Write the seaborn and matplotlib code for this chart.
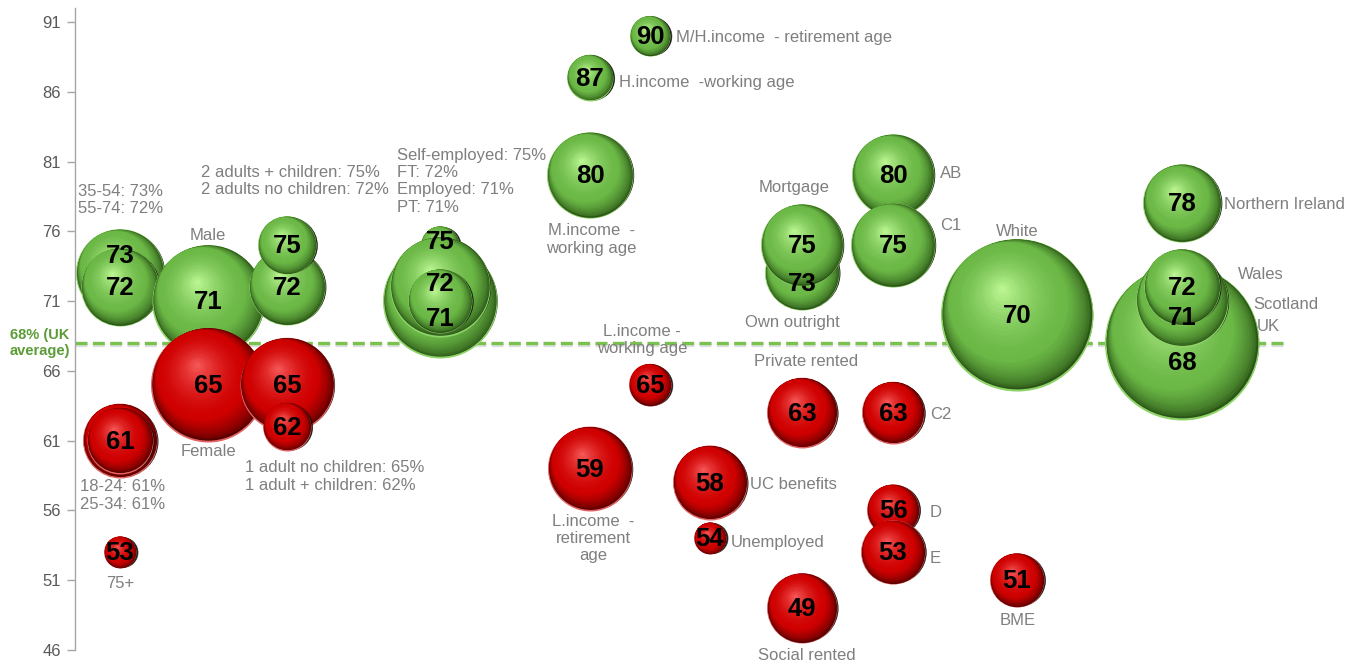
import numpy as np
import pandas as pd
import matplotlib
matplotlib.use("Agg")
import matplotlib.pyplot as plt
import matplotlib.transforms as mtrans
from matplotlib.colors import to_rgb
import seaborn as sns

# ---- data (listed in drawing order: later bubbles sit on top) ----
names = [
    "35-54", "55-74", "18-24", "25-34", "75+",
    "Male", "Female",
    "2 adults no children", "2 adults + children", "1 adult no children", "1 adult + children",
    "Self-employed", "Employed", "FT", "PT",
    "M/H.income  - retirement age", "H.income  -working age", "M.income  -\nworking age",
    "L.income -\nworking age", "L.income  -\nretirement\nage",
    "UC benefits", "Unemployed",
    "Own outright", "Mortgage", "Private rented", "Social rented",
    "AB", "C1", "C2", "D", "E",
    "White", "BME",
    "UK", "Scotland", "Wales", "Northern Ireland",
]
values = [
    73, 72, 61, 61, 53,
    71, 65,
    72, 75, 65, 62,
    75, 71, 72, 71,
    90, 87, 80,
    65, 59,
    58, 54,
    73, 75, 63, 49,
    80, 75, 63, 56, 53,
    70, 51,
    68, 71, 72, 78,
]
# horizontal slot of each group
x_slot = [
    0.45, 0.45, 0.45, 0.45, 0.45,
    1.33, 1.33,
    2.12, 2.12, 2.12, 2.12,
    3.65, 3.65, 3.65, 3.65,
    5.75, 5.15, 5.15,
    5.75, 5.15,
    6.35, 6.35,
    7.27, 7.27, 7.27, 7.27,
    8.18, 8.18, 8.18, 8.18, 8.18,
    9.42, 9.42,
    11.07, 11.07, 11.07, 11.07,
]
# bubble size (base of each group)
base_n = [
    653, 513, 462, 367, 86,
    1058, 1096,
    487, 284, 745, 194,
    122, 1096, 843, 345,
    135, 178, 624,
    149, 595,
    462, 86,
    462, 567, 413, 413,
    567, 595, 324, 228, 345,
    1950, 246,
    2000, 714, 487, 513,
]
uk_average = 68
y_ticks = [46, 51, 56, 61, 66, 71, 76, 81, 86, 91]

# grouped annotations: bubbles listed in the text, anchor bubble, offset (px), alignment
notes = [
    (["35-54", "55-74"], "35-54", 1, 73, "center"),
    (["18-24", "25-34"], "18-24", 3, -55, "center"),
    (["2 adults + children", "2 adults no children"], "2 adults + children", -86, 64, "left"),
    (["1 adult no children", "1 adult + children"], "1 adult + children", -42, -50, "left"),
    (["Self-employed", "FT", "Employed", "PT"], "Self-employed", -43, 64, "left"),
]
# single category tags: offset (px) from the bubble centre and alignment
tag_offsets = {
    "75+": (0, -31, "center"),
    "Male": (0, 66, "center"),
    "Female": (0, -67, "center"),
    "M.income  -\nworking age": (1, -64, "center"),
    "H.income  -working age": (29, -5, "left"),
    "M/H.income  - retirement age": (26, -2, "left"),
    "L.income -\nworking age": (-8, 45, "center"),
    "L.income  -\nretirement\nage": (3, -70, "center"),
    "UC benefits": (40, -2, "left"),
    "Unemployed": (21, -4, "left"),
    "Mortgage": (-8, 58, "center"),
    "Own outright": (-10, -49, "center"),
    "Private rented": (4, 51, "center"),
    "Social rented": (5, -47, "center"),
    "AB": (47, 2, "left"),
    "C1": (47, 20, "left"),
    "C2": (37, -2, "left"),
    "D": (37, -2, "left"),
    "E": (37, -6, "left"),
    "White": (0, 84, "center"),
    "BME": (1, -40, "center"),
    "Northern Ireland": (42, -1, "left"),
    "Wales": (56, 13, "left"),
    "Scotland": (71, -3, "left"),
    "UK": (75, 16, "left"),
}
# value labels nudged apart where bubbles are stacked (px, up positive)
value_nudge = {"35-54": 18, "Self-employed": 4, "FT": 4, "Employed": -17, "PT": -17,
               "Own outright": -10, "UK": -19, "Scotland": -16}

# ---- styling ----
sns.set_theme(style="white")
plt.rcParams["font.family"] = ["Liberation Sans", "DejaVu Sans"]

DPI = 100
fig = plt.figure(figsize=(13.6, 6.64), dpi=DPI)
ax = fig.add_axes([75 / 1360, 14 / 664, (1288 - 75) / 1360, (656 - 14) / 664])
ax.set_xlim(0, 12.13)
ax.set_ylim(46, 92)

df = pd.DataFrame({"name": names, "value": values, "x": x_slot, "n": base_n})
df["side"] = np.where(df["value"] >= uk_average, "above", "below")
df["r"] = 77 * np.sqrt(df["n"] / 2000.0)          # radius in pixels
df["s"] = (df["r"] * 72 / DPI * 2) ** 2            # marker area in pt^2

shades = {
    "above": dict(rim="#8fd469", dark="#2b5617", mid="#6bb846", hi="#b9f491"),
    "below": dict(rim="#e46464", dark="#520000", mid="#cf0000", hi="#f45454"),
}


def mix(c0, c1, f):
    a, b = np.array(to_rgb(c0)), np.array(to_rgb(c1))
    return tuple(a + (b - a) * f)


# base layer of bubbles
sns.scatterplot(data=df, x="x", y="value", hue="side",
                palette={k: v["rim"] for k, v in shades.items()},
                s=df["s"].values, linewidth=0, legend=False, ax=ax, zorder=2)


def shift(dx, dy):
    return mtrans.ScaledTranslation(dx / DPI, dy / DPI, fig.dpi_scale_trans)


def size_of(r):
    return (2 * r * 72 / DPI) ** 2


def disc(x, y, r, color, dx, dy, z, alpha=1.0):
    ax.scatter([x], [y], s=size_of(r), color=color, linewidths=0, alpha=alpha,
               transform=ax.transData + shift(dx, dy), zorder=z)


# shaded spheres: dark crescent on the lower right, highlight towards the upper left
light_dir = np.array([-0.6, 0.8])
for i, row in df.iterrows():
    z = 3 + i
    x, y, r = row["x"], row["value"], row["r"]
    c = shades[row["side"]]
    disc(x, y, 0.94 * r, "#000000", 3.2, 0, z, alpha=0.55)
    disc(x, y, 0.97 * r, "#111111", 2.0, 0, z + 0.005, alpha=0.85)
    disc(x, y, r, c["rim"], 0, 0, z + 0.01)
    base = np.array([0.0, 0.015 * r])
    disc(x, y, 0.985 * r, c["dark"], *base, z + 0.02)
    m = 16
    for k in range(1, m + 1):
        t = k / m
        rr = r * (0.985 - 0.2 * t)
        cen = base + light_dir * 0.2 * r * t
        disc(x, y, rr, mix(c["dark"], c["mid"], t ** 0.6), *cen, z + 0.03 + 0.3 * t)
    c0 = base + light_dir * 0.2 * r
    hpt = np.array([-0.2 * r, 0.34 * r])
    r0 = 0.785 * r
    h = 18
    for k in range(1, h + 1):
        t = k / h
        rr = r0 * (1 - t) + 0.05 * r * t
        cen = c0 + (hpt - c0) * t
        disc(x, y, rr, mix(c["mid"], c["hi"], t ** 1.6), *cen, z + 0.35 + 0.5 * t)

# UK average line with a soft drop shadow
shadow = ax.axhline(uk_average, color="#c8c8c8", lw=2.4, ls=(0, (3.6, 1.6)), alpha=0.6,
                    zorder=1.4)
shadow.set_transform(shadow.get_transform() + shift(0, -2))
ax.axhline(uk_average, color="#79c24d", lw=2.4, ls=(0, (3.6, 1.6)), zorder=1.5)
ax.annotate(f"{uk_average}% (UK\naverage)", xy=(0, uk_average),
            xycoords=("axes fraction", "data"), xytext=(-5, 0), textcoords="offset pixels",
            ha="right", va="center", multialignment="center", fontsize=10.5,
            fontweight="bold", color="#5c9c36", annotation_clip=False)

# value labels on bubbles
seen = set()
for _, row in df.iterrows():
    nudge = value_nudge.get(row["name"], 0)
    key = (row["x"], row["value"], nudge)
    if key in seen:
        continue
    seen.add(key)
    ax.annotate(f"{row['value']}", xy=(row["x"], row["value"]), xytext=(0, nudge - 1),
                textcoords="offset pixels", ha="center", va="center",
                fontsize=18.5, fontweight="bold", color="black", zorder=200)

lookup = df.set_index("name")
label_kw = dict(textcoords="offset pixels", va="center", fontsize=12, color="#7f7f7f",
                zorder=210, annotation_clip=False)

# single category tags
for name, (dx, dy, ha) in tag_offsets.items():
    row = lookup.loc[name]
    ax.annotate(name, xy=(row["x"], row["value"]), xytext=(dx, dy), ha=ha,
                linespacing=1.2, **label_kw)

# grouped tags
for members, anchor, dx, dy, ha in notes:
    text = "\n".join(f"{m}: {lookup.loc[m, 'value']}%" for m in members)
    row = lookup.loc[anchor]
    ax.annotate(text, xy=(row["x"], row["value"]), xytext=(dx, dy), ha=ha,
                linespacing=1.2, **label_kw)

# axes
for side in ("top", "right", "bottom"):
    ax.spines[side].set_visible(False)
ax.spines["left"].set_color("#a6a6a6")
ax.spines["left"].set_linewidth(1.0)
ax.set_xticks([])
ax.set_yticks(y_ticks)
ax.tick_params(axis="y", direction="out", length=6, width=1, color="#a6a6a6",
               labelsize=12, labelcolor="#595959", pad=4, left=True)
ax.set_xlabel("")
ax.set_ylabel("")
ax.patch.set_alpha(0)

fig.savefig("out.png", dpi=DPI, facecolor="white")
